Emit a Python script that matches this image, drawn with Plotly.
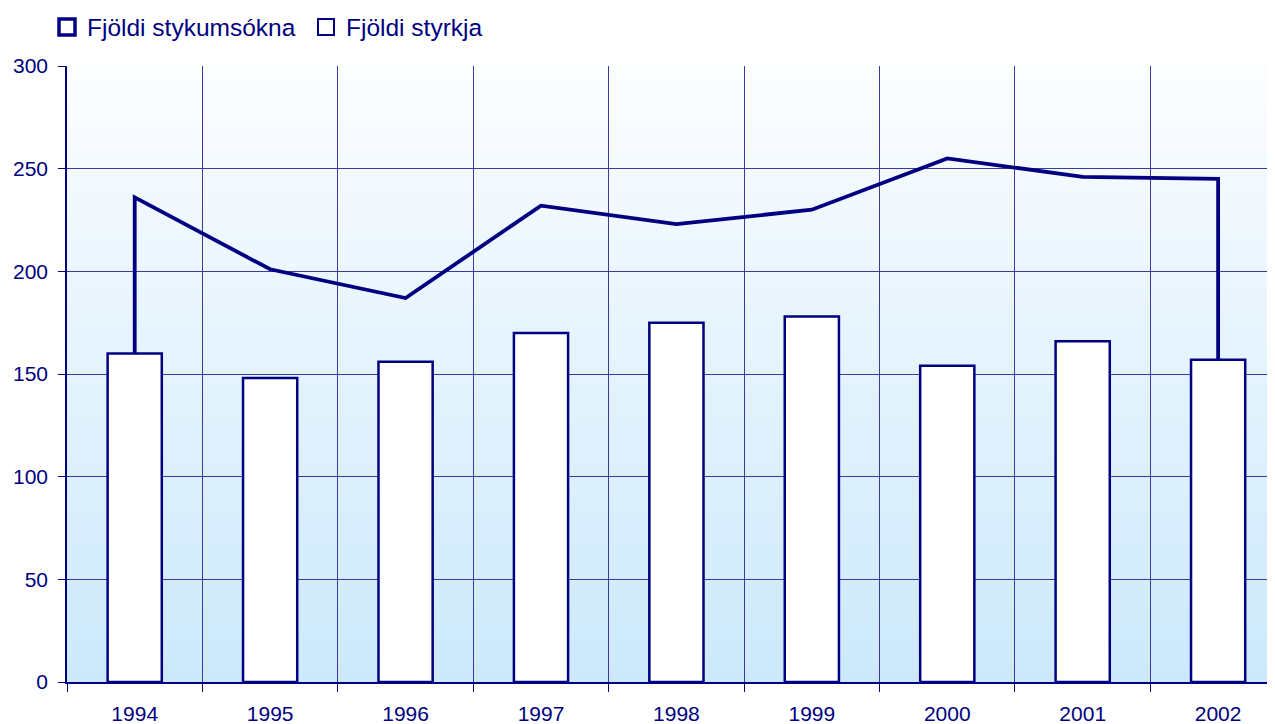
import plotly.graph_objects as go

years = ["1994", "1995", "1996", "1997", "1998", "1999", "2000", "2001", "2002"]
umsoknir = [236, 201, 187, 232, 223, 230, 255, 246, 245]   # Fjöldi stykumsókna (line)
styrkir = [160, 148, 156, 170, 175, 178, 154, 166, 157]    # Fjöldi styrkja (bars)
y_ticks = [0, 50, 100, 150, 200, 250, 300]

NAVY = "#000080"
GRID = "#3a3aa0"
FONT = "Liberation Sans, Arial, sans-serif"

# the page body adds an 8px offset, so the figure is sized to fill the rest
W, H = 1267, 716
ML, MT, MB = 59, 58, 42
plot_h = H - MT - MB

fig = go.Figure()

# bars
fig.add_trace(go.Bar(
    x=years, y=styrkir, name="Fjöldi styrkja", showlegend=False,
    width=0.4, marker=dict(color="white", line=dict(color=NAVY, width=2.5)),
))

# line with end drops to the first/last bar tops
line_x = [years[0]] + years + [years[-1]]
line_y = [styrkir[0]] + umsoknir + [styrkir[-1]]
fig.add_trace(go.Scatter(
    x=line_x, y=line_y, mode="lines", name="Fjöldi stykumsókna", showlegend=False,
    line=dict(color=NAVY, width=3.8),
))

# legend entries (square icons like the original)
fig.add_trace(go.Scatter(
    x=[None], y=[None], mode="markers", name="Fjöldi stykumsókna",
    marker=dict(symbol="square", size=18, color="white", line=dict(color=NAVY, width=3.5)),
))
fig.add_trace(go.Scatter(
    x=[None], y=[None], mode="markers", name="Fjöldi styrkja",
    marker=dict(symbol="square", size=18, color="white", line=dict(color=NAVY, width=2)),
))

# gradient background
n = 80
top = (252, 253, 255)
bot = (204, 233, 251)
shapes = []
for i in range(n):
    t = i / (n - 1)
    c = tuple(round(bot[k] + (top[k] - bot[k]) * t) for k in range(3))
    shapes.append(dict(
        type="rect", xref="x domain", yref="y domain",
        x0=0, x1=1, y0=i / n, y1=(i + 1) / n + 0.002,
        fillcolor="rgb(%d,%d,%d)" % c, line=dict(width=0), layer="below",
    ))

fig.update_layout(
    width=W, height=H,
    margin=dict(l=ML, r=0, t=MT, b=MB, autoexpand=False),
    paper_bgcolor="white", plot_bgcolor="rgba(0,0,0,0)",
    font=dict(family=FONT, color=NAVY, size=21),
    shapes=shapes,
    showlegend=True,
    legend=dict(
        orientation="h", xref="container", yref="paper",
        x=39 / W, y=1 + (MT - 19) / plot_h, xanchor="left", yanchor="middle",
        font=dict(size=24.5, color=NAVY), bgcolor="rgba(0,0,0,0)",
        itemsizing="trace", entrywidth=214,
    ),
    bargap=0.6,
)

fig.update_xaxes(
    type="category", range=[-0.5, 8.42], tickson="boundaries", automargin=False,
    showgrid=True, gridcolor=GRID, gridwidth=1,
    ticks="outside", ticklen=8, tickcolor=NAVY, tickwidth=1,
    showline=True, linecolor=NAVY, linewidth=2, ticklabelstandoff=12,
    tickfont=dict(size=21, color=NAVY, family=FONT),
)
fig.update_yaxes(
    range=[0, 300], tickvals=y_ticks, automargin=False,
    showgrid=True, gridcolor=GRID, gridwidth=1, zeroline=False,
    ticks="outside", ticklen=7, tickcolor=NAVY, tickwidth=1,
    showline=True, linecolor=NAVY, linewidth=1.5, ticklabelstandoff=6,
    tickfont=dict(size=21, color=NAVY, family=FONT),
)

fig.write_html("out.html")
